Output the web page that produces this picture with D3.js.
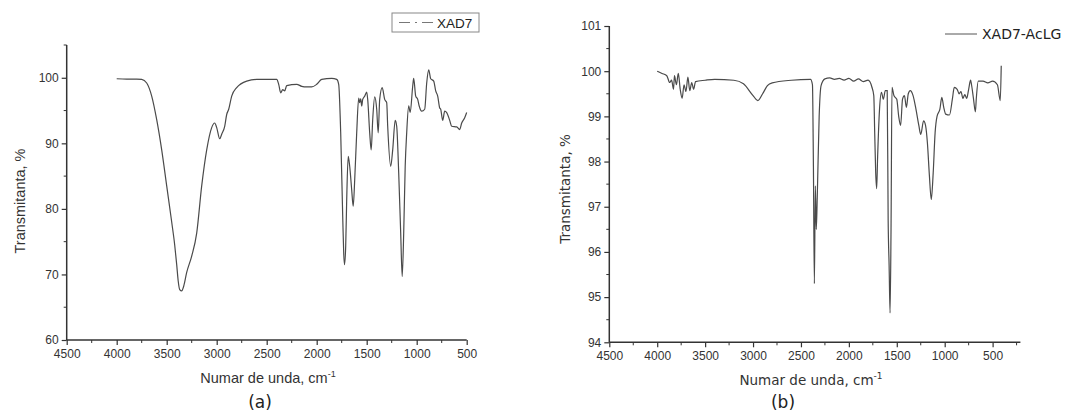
<!DOCTYPE html>
<html>
<head>
<meta charset="utf-8">
<script src="https://cdn.jsdelivr.net/npm/d3@7"></script>
<style>
    body { margin: 0; background: #fff; }
    svg { display: block; }
    .caption { font-family: "DejaVu Sans", Verdana, sans-serif; font-size: 17px; fill: #222; }
</style>
</head>
<body>
<svg id="chart"></svg>
<script>
// Spectrum (a): XAD7, [wavenumber, transmittance %]
const xad7Points = [
    [4000, 99.85], [3900, 99.8], [3800, 99.8], [3750, 99.75], [3700, 99.2], [3650, 97.2],
    [3600, 93.6], [3550, 89], [3500, 83.5], [3450, 78.0], [3420, 74.5], [3400, 71.5],
    [3385, 69.0], [3370, 67.7], [3350, 67.5], [3330, 68.2], [3300, 70.3], [3250, 72.8],
    [3200, 76.3], [3150, 83.5], [3100, 89],
    [3050, 92.4], [3020, 93.1], [3000, 92.4], [2970, 90.7], [2950, 91.4], [2920, 92.6],
    [2900, 94.4], [2880, 95.2], [2850, 97.2], [2800, 98.5], [2700, 99.5], [2600, 99.75],
    [2400, 99.75], [2380, 99], [2360, 97.7], [2340, 98.2], [2320, 98], [2300, 98.8],
    [2200, 99], [2150, 98.7], [2100, 98.6], [2050, 98.6], [2000, 99], [1950, 99.75],
    [1850, 99.9], [1800, 99.75], [1780, 99], [1760, 91.6], [1740, 78.9], [1730, 73.3],
    [1722, 71.5], [1710, 74.3], [1700, 81.4], [1685, 88], [1670, 86.5], [1650, 82.9],
    [1635, 80.4], [1620, 84.4], [1600, 91.6], [1580, 96.9], [1570, 96.2], [1560, 96.8],
    [1550, 95.7], [1540, 96.7], [1520, 97.2], [1500, 97.8], [1490, 96.7], [1470, 91.6],
    [1455, 89], [1440, 93.6], [1420, 97.1], [1400, 95.2], [1385, 91.6], [1370, 96.7],
    [1345, 98.5], [1320, 96.7], [1300, 96.2], [1290, 92.6], [1260, 86.5], [1240, 89],
    [1215, 93.5], [1200, 92.6], [1180, 85.5], [1160, 76.3], [1145, 69.7], [1130, 76.3],
    [1115, 86.5], [1100, 91.6], [1080, 95.7], [1065, 94.7], [1040, 98.7], [1030, 99.9],
    [1010, 97.2], [990, 96.7], [975, 95.7], [950, 94.9], [920, 95.2], [900, 99.2],
    [880, 101.2], [860, 99.85], [830, 99.5], [810, 98], [790, 97.2], [770, 95.4],
    [760, 95.2], [740, 93.5], [720, 94.9], [700, 94.7], [670, 93.5], [650, 92.6],
    [600, 92.5], [570, 92.1], [550, 93.1], [520, 93.9], [500, 94.7]
];

// Spectrum (b): XAD7-AcLG, [wavenumber, transmittance %]
const xad7AclgPoints = [
    [4000, 100.0], [3950, 99.95], [3900, 99.9], [3870, 99.75], [3850, 99.8], [3830, 99.6],
    [3820, 99.9], [3800, 99.7], [3780, 99.95], [3760, 99.6], [3740, 99.4], [3720, 99.7],
    [3700, 99.55], [3680, 99.87], [3660, 99.57], [3640, 99.75], [3620, 99.6], [3600, 99.77],
    [3500, 99.8], [3400, 99.82], [3200, 99.8], [3100, 99.72], [3000, 99.46], [2950, 99.35],
    [2900, 99.5], [2850, 99.68], [2800, 99.74], [2600, 99.8], [2400, 99.82], [2380, 99.7],
    [2370, 97.9], [2360, 95.3], [2350, 97.46], [2340, 96.5], [2330, 97.2], [2310, 99.0],
    [2290, 99.68], [2250, 99.83], [2200, 99.85], [2150, 99.82], [2100, 99.84], [2050, 99.8],
    [2000, 99.84], [1950, 99.78], [1900, 99.83], [1850, 99.77], [1800, 99.8], [1760, 99.65],
    [1740, 99.46], [1730, 98.6], [1720, 97.75], [1710, 97.4], [1700, 98.1], [1680, 99.16],
    [1660, 99.53], [1640, 99.38], [1620, 99.57], [1600, 99.57], [1590, 96.7], [1580, 95.7],
    [1570, 94.65], [1560, 96.5], [1550, 99.64], [1530, 99.46], [1500, 99.38], [1480, 99.0],
    [1460, 98.8], [1440, 99.38], [1420, 99.46], [1400, 99.2], [1380, 99.5], [1360, 99.57],
    [1330, 99.46], [1300, 99.16], [1270, 98.8], [1250, 98.6], [1220, 98.9], [1200, 98.8],
    [1180, 98.4], [1160, 97.7], [1140, 97.16], [1120, 97.75], [1100, 98.64], [1080, 99.0],
    [1050, 99.16], [1030, 99.42], [1010, 99.2], [990, 99.05], [950, 99.03], [920, 99.38],
    [900, 99.64], [870, 99.6], [850, 99.5], [830, 99.55], [810, 99.4], [790, 99.48],
    [770, 99.4], [750, 99.6], [730, 99.8], [720, 99.7], [700, 99.4], [680, 99.1],
    [670, 99.4], [650, 99.78], [600, 99.78], [550, 99.74], [500, 99.78], [450, 99.7],
    [420, 99.35], [410, 100.12]
];

// Axis ticks
const xTicksMajor = [4500, 4000, 3500, 3000, 2500, 2000, 1500, 1000, 500];
const yTicksA = [60, 70, 80, 90, 100];
const yTicksB = [94, 95, 96, 97, 98, 99, 100, 101];

const tickFont = '"Liberation Sans", Arial, sans-serif';

const svg = d3.select('#chart').attr('width', 1084).attr('height', 412);

function drawPanel(cfg) {
    const g = svg.append('g');
    const x = d3.scaleLinear().domain(cfg.xDomain).range(cfg.xRange);
    const y = d3.scaleLinear().domain(cfg.yDomain).range(cfg.yRange);

    // x axis: major ticks labelled, minor ticks in between
    const xAxis = d3.axisBottom(x)
        .tickValues(xTicksMajor)
        .tickSize(5)
        .tickPadding(4)
        .tickFormat(d3.format('d'));
    const xg = g.append('g')
        .attr('transform', `translate(0,${cfg.yRange[0]})`)
        .call(xAxis);
    xg.select('.domain').attr('d', `M${cfg.xRange[0]},0H${cfg.xRange[1]}`);

    const xMinor = d3.range(4250, cfg.xDomain[1], -500).filter(v => v >= cfg.xDomain[1]);
    g.append('g')
        .attr('transform', `translate(0,${cfg.yRange[0]})`)
        .selectAll('line')
        .data(xMinor)
        .enter().append('line')
        .attr('x1', d => x(d)).attr('x2', d => x(d))
        .attr('y1', 0).attr('y2', 3)
        .attr('stroke', '#333');

    // y axis
    const yAxis = d3.axisLeft(y)
        .tickValues(cfg.yTicks)
        .tickSize(5)
        .tickPadding(3)
        .tickFormat(d3.format('d'));
    const yg = g.append('g')
        .attr('transform', `translate(${cfg.xRange[0]},0)`)
        .call(yAxis);
    yg.select('.domain').attr('d', `M0,${cfg.yRange[0]}V${cfg.yRange[1]}`);

    g.append('g')
        .attr('transform', `translate(${cfg.xRange[0]},0)`)
        .selectAll('line')
        .data(cfg.yMinor)
        .enter().append('line')
        .attr('x1', 0).attr('x2', -3)
        .attr('y1', d => y(d)).attr('y2', d => y(d))
        .attr('stroke', '#333');

    [xg, yg].forEach(a => a.attr('font-family', tickFont).attr('font-size', 12));
    g.selectAll('.tick line').attr('stroke', '#333').attr('stroke-width', 1.2);
    g.selectAll('.domain').attr('stroke', '#333').attr('stroke-width', 1.5);
    g.selectAll('.tick text').attr('fill', '#333');

    // spectrum line
    const line = d3.line()
        .x(d => x(d[0]))
        .y(d => y(d[1]))
        .curve(d3.curveMonotoneX);
    g.append('path')
        .datum(cfg.points)
        .attr('fill', 'none')
        .attr('stroke', '#4a4a4a')
        .attr('stroke-width', 1.2)
        .attr('d', line);

    // axis titles
    const xt = g.append('text')
        .attr('font-family', cfg.titleFont)
        .attr('font-size', cfg.titleSize)
        .attr('fill', '#333')
        .attr('x', cfg.xTitleX)
        .attr('y', cfg.xTitleY)
        .attr('text-anchor', 'middle')
        .text('Numar de unda, cm');
    xt.append('tspan')
        .attr('font-size', '9px')
        .attr('dy', -6)
        .text('-1');

    g.append('text')
        .attr('font-family', cfg.titleFont)
        .attr('font-size', cfg.titleSize)
        .attr('fill', '#333')
        .attr('transform', `translate(${cfg.yTitleX},${cfg.yTitleY}) rotate(-90)`)
        .attr('text-anchor', 'middle')
        .text('Transmitanta, %');

    g.append('text')
        .attr('class', 'caption')
        .attr('x', cfg.captionX)
        .attr('y', 408)
        .attr('text-anchor', 'middle')
        .text(cfg.caption);

    return g;
}

const panelA = drawPanel({
    points: xad7Points,
    xDomain: [4500, 500], xRange: [66.7, 466.7],
    yDomain: [60, 105], yRange: [340, 45],
    yTicks: yTicksA, yMinor: [65, 75, 85, 95, 105],
    titleFont: '"Liberation Sans", Arial, sans-serif', titleSize: '14.5px',
    xTitleX: 268, xTitleY: 383, yTitleX: 25, yTitleY: 201,
    captionX: 260, caption: '(a)'
});

const panelB = drawPanel({
    points: xad7AclgPoints,
    xDomain: [4500, 210], xRange: [609.3, 1020.4],
    yDomain: [94, 101], yRange: [342.3, 26],
    yTicks: yTicksB, yMinor: [94.5, 95.5, 96.5, 97.5, 98.5, 99.5, 100.5],
    titleFont: '"DejaVu Sans", Verdana, sans-serif', titleSize: '13.5px',
    xTitleX: 811, xTitleY: 385, yTitleX: 570, yTitleY: 189,
    captionX: 783, caption: '(b)'
});

// legend (a): boxed, dash-dot sample
const legA = svg.append('g');
legA.append('rect')
    .attr('x', 392).attr('y', 13).attr('width', 87).attr('height', 19)
    .attr('fill', '#fff').attr('stroke', '#888').attr('stroke-width', 1);
legA.append('line')
    .attr('x1', 399).attr('x2', 433).attr('y1', 22.5).attr('y2', 22.5)
    .attr('stroke', '#777').attr('stroke-width', 1)
    .attr('stroke-dasharray', '11,5,2,5,11');
legA.append('text')
    .attr('x', 437).attr('y', 27.5)
    .attr('font-family', '"Liberation Sans", Arial, sans-serif')
    .attr('font-size', '13.5px').attr('fill', '#222')
    .text('XAD7');

// legend (b): plain line sample
const legB = svg.append('g');
legB.append('line')
    .attr('x1', 945).attr('x2', 977).attr('y1', 34).attr('y2', 34)
    .attr('stroke', '#555').attr('stroke-width', 1);
legB.append('text')
    .attr('x', 982).attr('y', 39)
    .attr('font-family', '"DejaVu Sans", Verdana, sans-serif')
    .attr('font-size', '14px').attr('fill', '#222')
    .text('XAD7-AcLG');
</script>
</body>
</html>
